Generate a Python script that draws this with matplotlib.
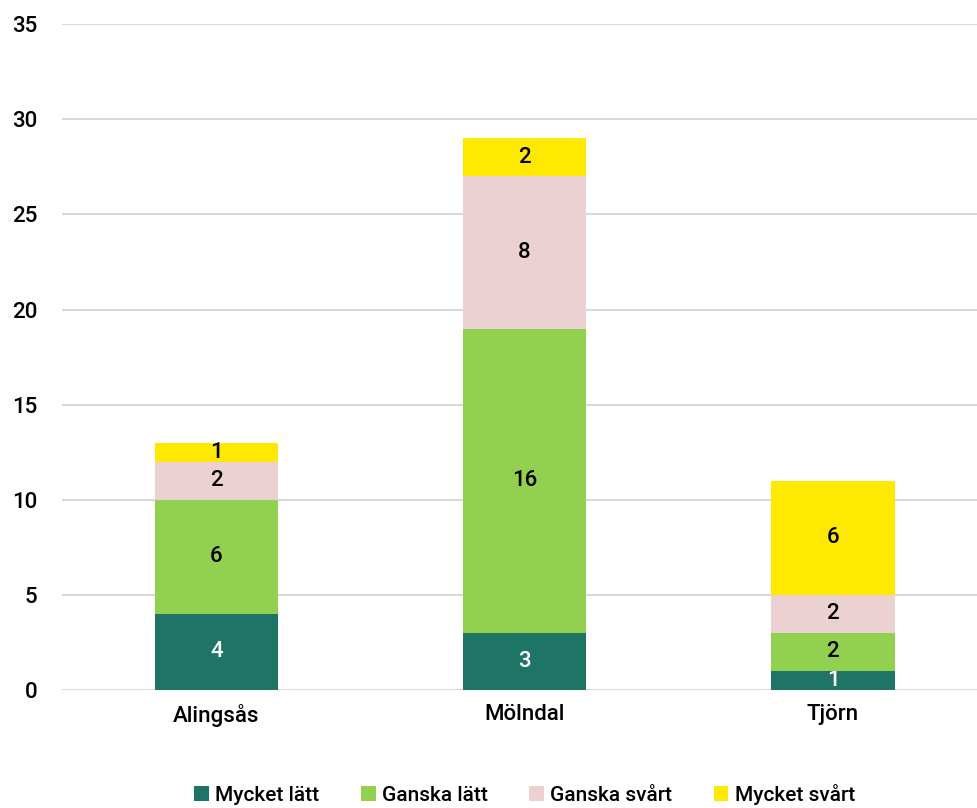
import numpy as np
import matplotlib.pyplot as plt

kommuner = ["Alingsås", "Mölndal", "Tjörn"]
serier = ["Mycket lätt", "Ganska lätt", "Ganska svårt", "Mycket svårt"]
mycket_latt = [4, 3, 1]
ganska_latt = [6, 16, 2]
ganska_svart = [2, 8, 2]
mycket_svart = [1, 2, 6]
yticks = [0, 5, 10, 15, 20, 25, 30, 35]

farger = ["#1E7465", "#92D050", "#EBD1D2", "#FFE900"]
textfarg = ["white", "black", "black", "black"]

plt.rcParams['font.family'] = ['Roboto', 'DejaVu Sans']
plt.rcParams['font.weight'] = 'medium'

fig = plt.figure(figsize=(9.78, 8.08), dpi=100)
ax = fig.add_axes([0.0634, 0.146, 0.946, 0.824])

x = np.arange(len(kommuner))
botten = np.zeros(len(kommuner))
for namn, varden, farg, tf in zip(serier, [mycket_latt, ganska_latt, ganska_svart, mycket_svart], farger, textfarg):
    bars = ax.bar(x, varden, 0.4, bottom=botten, color=farg, label=namn, zorder=3)
    ax.bar_label(bars, labels=[str(v) for v in varden], label_type='center',
                 color=tf, fontsize=16, fontweight='medium')
    botten += np.array(varden)

ax.set_xlim(-0.5, 2.5)
ax.set_ylim(0, 35)
ax.set_yticks(yticks)
ax.set_xticks(x)
ax.set_xticklabels(kommuner, fontsize=16)
ax.tick_params(axis='y', labelsize=16, length=0, pad=18)
ax.tick_params(axis='x', length=0, pad=10)
ax.grid(axis='y', color='#D9D9D9', linewidth=1.5, zorder=0)
for s in ax.spines.values():
    s.set_visible(False)

ax.legend(loc='upper center', bbox_to_anchor=(0.5, -0.113), ncol=4, frameon=False,
          prop={'weight': 'medium', 'size': 15},
          handlelength=0.7, handleheight=0.7, handletextpad=0.3, columnspacing=2.0)

fig.savefig("out.png", dpi=100)
